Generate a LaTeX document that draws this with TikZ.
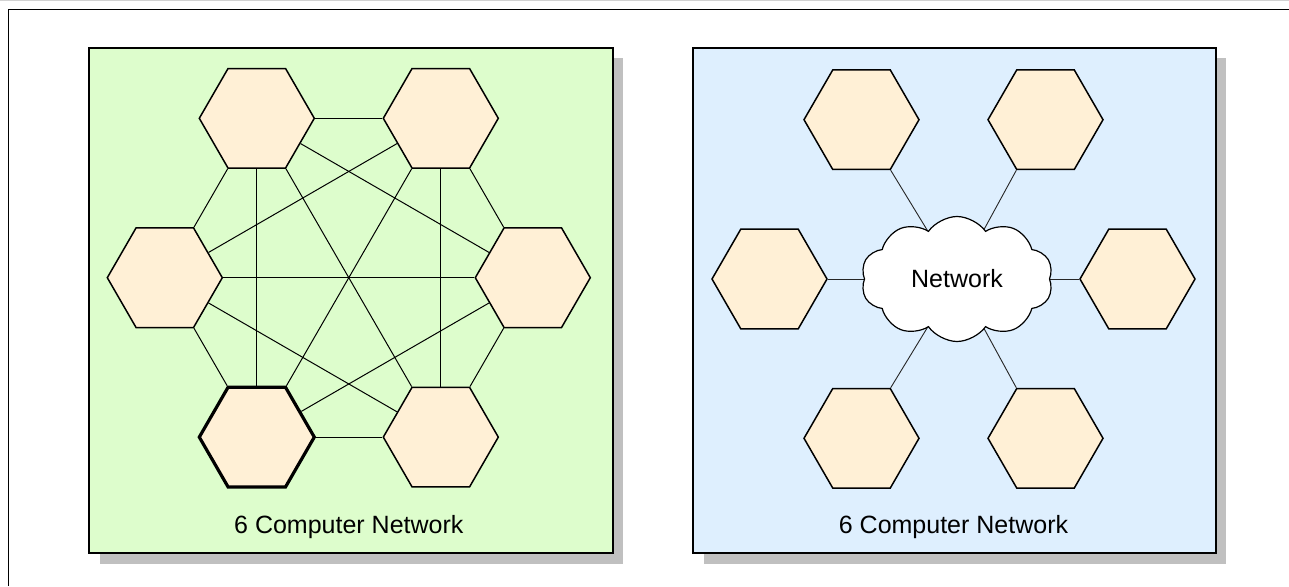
\documentclass[tikz,border=0pt]{standalone}
\usepackage{fontspec}
\setmainfont{Liberation Sans}
\usetikzlibrary{shapes.geometric,shapes.symbols}

\definecolor{meshfill}{RGB}{221,253,204}
\definecolor{starfill}{RGB}{222,239,254}
\definecolor{hexfill}{RGB}{255,240,214}
\definecolor{shadowgray}{RGB}{192,192,192}

\pgfdeclarelayer{back}
\pgfdeclarelayer{mid}
\pgfsetlayers{back,mid,main}

\begin{document}
\begin{tikzpicture}[x=1pt,y=-1pt,
  panel/.style={draw=black,line width=1.8pt},
  panelshadow/.style={fill=shadowgray,draw=none},
  computer/.style={regular polygon,regular polygon sides=6,minimum size=115pt,
    inner sep=0pt,draw=black,line width=1.5pt,fill=hexfill},
  master/.style={computer,line width=3.2pt},
  link/.style={draw=black,line width=1pt},
  spoke/.style={draw=black!85,line width=0.9pt},
  caption/.style={font=\fontsize{25}{30}\selectfont,anchor=base,inner sep=0pt},
  netcloud/.style={cloud,cloud puffs=10,cloud puff arc=110,cloud ignores aspect,
    minimum width=192pt,minimum height=125pt,draw=black,line width=1.2pt,fill=white,
    font=\fontsize{25}{30}\selectfont}]

\useasboundingbox (0,0) rectangle (1289,586);

% page frame
\begin{pgfonlayer}{back}
\draw[gray!35,line width=0.8pt] (0,0.5) -- (1289,0.5);
\draw[black,line width=1.2pt] (8.3,586) -- (8.3,9.3) -- (1289,9.3);

% panels with drop shadows
\fill[panelshadow] (99.8,58.2) rectangle (623.2,563.8);
\draw[panel,fill=meshfill] (89.3,47.7) rectangle (612.7,553.3);
\fill[panelshadow] (703.8,58.2) rectangle (1226.2,563.5);
\draw[panel,fill=starfill] (693.3,47.7) rectangle (1215.7,553.0);
\end{pgfonlayer}

% fully meshed network
\node[computer] (tl) at (256.8,118.3) {};
\node[computer] (tr) at (440.8,118.3) {};
\node[computer] (l)  at (164.8,277.7) {};
\node[computer] (r)  at (532.8,277.7) {};
\node[master]   (bl) at (256.8,437.1) {};
\node[computer] (br) at (440.8,437.1) {};

\begin{pgfonlayer}{mid}
\draw[link] (tl.0) -- (tr.180);
\draw[link] (bl.0) -- (br.180);
\draw[link] (l.0) -- (r.180);
\draw[link] (tl.240) -- (l.60);
\draw[link] (tr.300) -- (r.120);
\draw[link] (l.300) -- (bl.120);
\draw[link] (r.240) -- (br.60);
\draw[link] (tl.270) -- (bl.90);
\draw[link] (tr.270) -- (br.90);
\draw[link] (tl.300) -- (br.120);
\draw[link] (tr.240) -- (bl.60);
\draw[link] (tl.330) -- (r.150);
\draw[link] (tr.210) -- (l.30);
\draw[link] (l.330) -- (br.150);
\draw[link] (r.210) -- (bl.30);
\end{pgfonlayer}

\node[caption] (meshcap) at (348.8,533.5) {6 Computer Network};

% star network around a shared cloud
\node[computer] (stl) at (861.5,119.7) {};
\node[computer] (str) at (1045.5,119.7) {};
\node[computer] (sl)  at (769.5,279) {};
\node[computer] (sr)  at (1137.5,279) {};
\node[computer] (sbl) at (861.5,438.3) {};
\node[computer] (sbr) at (1045.5,438.3) {};

\node[netcloud] (net) at (957,279) {Network};

\begin{pgfonlayer}{mid}
\draw[spoke] (stl.300) -- (net.center);
\draw[spoke] (str.240) -- (net.center);
\draw[spoke] (sl.0) -- (net.center);
\draw[spoke] (sr.180) -- (net.center);
\draw[spoke] (sbl.60) -- (net.center);
\draw[spoke] (sbr.120) -- (net.center);
\end{pgfonlayer}

\node[caption] (starcap) at (953.5,533.5) {6 Computer Network};
\end{tikzpicture}
\end{document}
